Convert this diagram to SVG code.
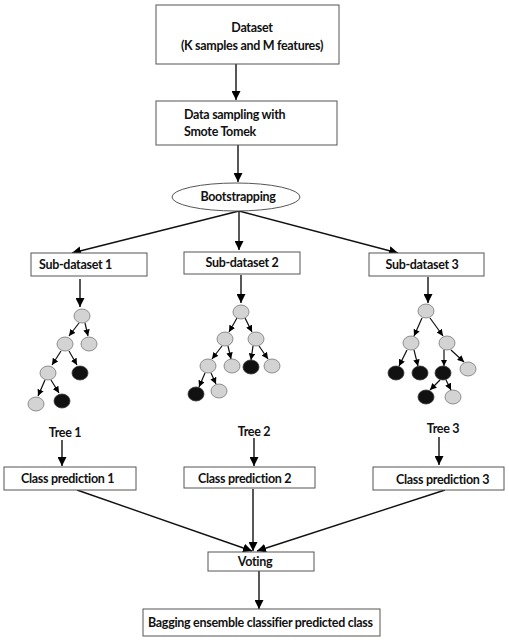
<svg xmlns="http://www.w3.org/2000/svg" width="509" height="640" viewBox="0 0 509 640">
<defs>
<marker id="ah" viewBox="0 0 10 10" refX="10" refY="5" markerWidth="9" markerHeight="9" markerUnits="userSpaceOnUse" orient="auto"><path d="M0,0 L10,5 L0,10 z" fill="#000"/></marker>
<marker id="ahs" viewBox="0 0 10 10" refX="10" refY="5" markerWidth="6.5" markerHeight="6.5" markerUnits="userSpaceOnUse" orient="auto"><path d="M0,0 L10,5 L0,10 z" fill="#000"/></marker>
<style>
.box{fill:#fff;stroke:#555;stroke-width:1}
.t{font-family:Lato,"Liberation Sans",sans-serif;font-weight:bold;font-size:12.5px;letter-spacing:-0.3px;fill:#111}
.c{stroke:#111;stroke-width:1.4;fill:none;marker-end:url(#ah)}
.tc{stroke:#111;stroke-width:1.2;fill:none;marker-end:url(#ahs)}
.g{fill:#d3d3d3;stroke:#777;stroke-width:0.8}
.b{fill:#111;stroke:#333;stroke-width:0.8}
</style>
</defs>
<rect width="509" height="640" fill="#fff"/>
<g id="connectors">
<line class="c" x1="236" y1="64" x2="236" y2="100"/>
<line class="c" x1="238" y1="145" x2="238" y2="182"/>
<line class="c" x1="239" y1="211" x2="72" y2="253"/>
<line class="c" x1="239" y1="211" x2="239" y2="250"/>
<line class="c" x1="239" y1="211" x2="398" y2="253"/>
<line class="c" x1="80" y1="279" x2="80" y2="307"/>
<line class="c" x1="241" y1="275" x2="241" y2="303"/>
<line class="c" x1="428" y1="277" x2="428" y2="303"/>
<line class="c" x1="62" y1="440" x2="62" y2="466"/>
<line class="c" x1="254" y1="438" x2="254" y2="466"/>
<line class="c" x1="439" y1="437" x2="439" y2="465"/>
<line class="c" x1="77" y1="490" x2="252" y2="551"/>
<line class="c" x1="253" y1="489" x2="253" y2="551"/>
<line class="c" x1="445" y1="490" x2="257" y2="551"/>
<line class="c" x1="259" y1="571" x2="259" y2="609"/>
<line class="tc" x1="79" y1="323" x2="69" y2="336"/>
<line class="tc" x1="85" y1="323" x2="88" y2="336"/>
<line class="tc" x1="61" y1="351" x2="52" y2="365"/>
<line class="tc" x1="69" y1="351" x2="77" y2="365"/>
<line class="tc" x1="45" y1="380" x2="38" y2="396"/>
<line class="tc" x1="51" y1="380" x2="59" y2="393"/>
<line class="tc" x1="237" y1="318" x2="229" y2="332"/>
<line class="tc" x1="245" y1="318" x2="252" y2="332"/>
<line class="tc" x1="222" y1="346" x2="212" y2="359"/>
<line class="tc" x1="228" y1="346" x2="231" y2="359"/>
<line class="tc" x1="253" y1="346" x2="251" y2="360"/>
<line class="tc" x1="259" y1="346" x2="268" y2="359"/>
<line class="tc" x1="205" y1="373" x2="199" y2="387"/>
<line class="tc" x1="211" y1="373" x2="216" y2="384"/>
<line class="tc" x1="422" y1="318" x2="414" y2="336"/>
<line class="tc" x1="430" y1="318" x2="443" y2="336"/>
<line class="tc" x1="407" y1="350" x2="399" y2="366"/>
<line class="tc" x1="414" y1="350" x2="418" y2="366"/>
<line class="tc" x1="444" y1="350" x2="444" y2="366"/>
<line class="tc" x1="451" y1="350" x2="464" y2="362"/>
<line class="tc" x1="440" y1="380" x2="430" y2="390"/>
<line class="tc" x1="446" y1="380" x2="451" y2="390"/>
</g>
<g id="dataset"><rect class="box" x="156" y="5" width="183" height="59"/><text class="t" x="252" y="32" text-anchor="middle">Dataset</text><text class="t" x="252" y="50" text-anchor="middle">(K samples and M features)</text></g>
<g id="sampling"><rect class="box" x="156" y="101" width="181" height="44"/><text class="t" x="184" y="119">Data sampling with</text><text class="t" x="184" y="136">Smote Tomek</text></g>
<g id="bootstrapping"><ellipse cx="236" cy="197" rx="64" ry="14" fill="#fff" stroke="#555" stroke-width="1"/><text class="t" x="238" y="201" text-anchor="middle">Bootstrapping</text></g>
<g id="sub1"><rect class="box" x="31" y="253" width="116" height="23"/><text class="t" x="39" y="269">Sub-dataset 1</text></g>
<g id="sub2"><rect class="box" x="184" y="252" width="116" height="22"/><text class="t" x="242" y="267" text-anchor="middle">Sub-dataset 2</text></g>
<g id="sub3"><rect class="box" x="369" y="253" width="115" height="23"/><text class="t" x="422" y="269" text-anchor="middle">Sub-dataset 3</text></g>
<g id="tree1">
<ellipse class="g" cx="82" cy="316" rx="8" ry="7"/>
<ellipse class="g" cx="65" cy="344" rx="8" ry="7"/>
<ellipse class="g" cx="89" cy="344" rx="8" ry="7"/>
<ellipse class="g" cx="48" cy="373" rx="8" ry="7"/>
<ellipse class="b" cx="80" cy="373" rx="8" ry="7"/>
<ellipse class="g" cx="36" cy="404" rx="8" ry="7"/>
<ellipse class="b" cx="62" cy="401" rx="8" ry="7"/>
<text class="t" x="65" y="437" text-anchor="middle">Tree 1</text>
</g>
<g id="tree2">
<ellipse class="g" cx="241" cy="312" rx="8" ry="7"/>
<ellipse class="g" cx="225" cy="339" rx="8" ry="7"/>
<ellipse class="g" cx="256" cy="339" rx="8" ry="7"/>
<ellipse class="g" cx="208" cy="366" rx="8" ry="7"/>
<ellipse class="g" cx="232" cy="366" rx="8" ry="7"/>
<ellipse class="b" cx="251" cy="367" rx="8" ry="7"/>
<ellipse class="g" cx="272" cy="366" rx="8" ry="7"/>
<ellipse class="b" cx="196" cy="394" rx="8" ry="7"/>
<ellipse class="g" cx="219" cy="391" rx="8" ry="7"/>
<text class="t" x="254" y="436" text-anchor="middle">Tree 2</text>
</g>
<g id="tree3">
<ellipse class="g" cx="426" cy="311" rx="8" ry="7"/>
<ellipse class="g" cx="411" cy="343" rx="8" ry="7"/>
<ellipse class="g" cx="447" cy="343" rx="8" ry="7"/>
<ellipse class="b" cx="396" cy="373" rx="8" ry="7"/>
<ellipse class="b" cx="420" cy="373" rx="8" ry="7"/>
<ellipse class="b" cx="443" cy="373" rx="8" ry="7"/>
<ellipse class="g" cx="468" cy="369" rx="8" ry="7"/>
<ellipse class="b" cx="426" cy="397" rx="8" ry="7"/>
<ellipse class="g" cx="453" cy="397" rx="8" ry="7"/>
<text class="t" x="443" y="433" text-anchor="middle">Tree 3</text>
</g>
<g id="pred1"><rect class="box" x="4" y="467" width="132" height="23"/><text class="t" x="21" y="483">Class prediction 1</text></g>
<g id="pred2"><rect class="box" x="184" y="467" width="131" height="21"/><text class="t" x="198" y="483">Class prediction 2</text></g>
<g id="pred3"><rect class="box" x="373" y="467" width="131" height="23"/><text class="t" x="396" y="484">Class prediction 3</text></g>
<g id="voting"><rect class="box" x="208" y="552" width="106" height="19"/><text class="t" x="255" y="566" text-anchor="middle">Voting</text></g>
<g id="result"><rect class="box" x="143" y="609" width="237" height="27"/><text class="t" x="148" y="627">Bagging ensemble classifier predicted class</text></g>
</svg>
